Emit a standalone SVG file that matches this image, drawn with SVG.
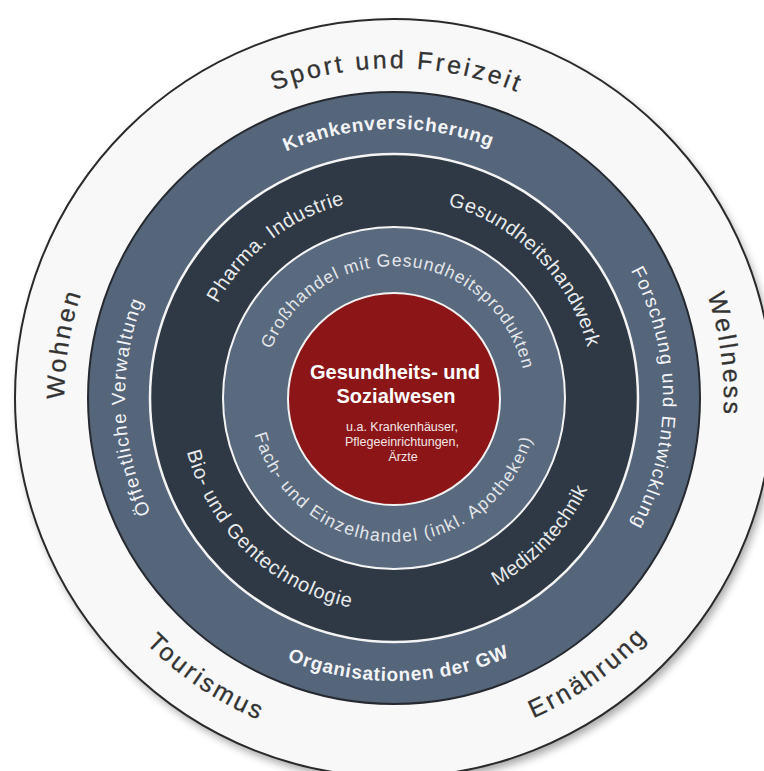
<svg xmlns="http://www.w3.org/2000/svg" width="764" height="771" viewBox="0 0 764 771">
<style>
text{font-family:"Liberation Sans",Arial,sans-serif;text-anchor:middle}
.to{font-size:25px;fill:#333333;stroke:#333333;stroke-width:0.3px;letter-spacing:2.8px}
.tm{font-size:19px;fill:#f2f4f6;letter-spacing:1.3px}
.tmb{font-size:19px;fill:#f2f4f6;font-weight:bold;letter-spacing:0.8px}
.td{font-size:20px;fill:#e8eaec;letter-spacing:0.5px}
.ti{font-size:17.5px;fill:#e3e6ea;letter-spacing:1px}
.ct{font-size:20px;font-weight:bold;fill:#ffffff}
.cs{font-size:12.5px;fill:#f3e6e6}
</style>
<defs>
<filter id="sh" x="-10%" y="-10%" width="120%" height="120%"><feGaussianBlur stdDeviation="4"/></filter>
<path id="po" d="M 64,398 A 330 330 0 0 1 724,398"/>
<path id="pob" d="M 45,398 A 349 349 0 0 0 743,398"/>
<path id="pm" d="M 125,398 A 269 269 0 0 1 663,398"/>
<path id="pmb" d="M 111,398 A 283 283 0 0 0 677,398"/>
<path id="pd" d="M 194,398 A 200 200 0 0 1 594,398"/>
<path id="pdb" d="M 180,398 A 214 214 0 0 0 608,398"/>
<path id="pi" d="M 262,398 A 132 132 0 0 1 526,398"/>
<path id="pib" d="M 250,398 A 144 144 0 0 0 538,398"/>
</defs>
<rect width="764" height="771" fill="#ffffff"/>
<g id="ring-outer">
<circle cx="397" cy="403" r="379" fill="#000" opacity="0.35" filter="url(#sh)"/>
<circle cx="394" cy="398" r="379" fill="#f8f8f8" stroke="#2a2a2a" stroke-width="2"/>
<text class="to" style="letter-spacing:3px" transform="rotate(0.5 394 398)"><textPath href="#po" startOffset="50%">Sport und Freizeit</textPath></text>
<text class="to" transform="rotate(-80.7 394 398)"><textPath href="#po" startOffset="50%">Wohnen</textPath></text>
<text class="to" transform="rotate(82.5 394 398)"><textPath href="#po" startOffset="50%">Wellness</textPath></text>
<text class="to" transform="rotate(33.9 394 398)"><textPath href="#pob" startOffset="50%">Tourismus</textPath></text>
<text class="to" transform="rotate(-35.15 394 398)"><textPath href="#pob" startOffset="50%">Ernährung</textPath></text>
</g>
<g id="ring-mid">
<circle cx="394" cy="398" r="306" fill="#55657a" stroke="#262a30" stroke-width="2"/>
<text class="tmb" transform="rotate(-1.2 394 398)"><textPath href="#pm" startOffset="50%">Krankenversicherung</textPath></text>
<text class="tm" transform="rotate(-92 394 398)"><textPath href="#pm" startOffset="50%">Öffentliche Verwaltung</textPath></text>
<text class="tm" transform="rotate(90 394 398)"><textPath href="#pm" startOffset="50%">Forschung und Entwicklung</textPath></text>
<text class="tmb" transform="rotate(-1 394 398)"><textPath href="#pmb" startOffset="50%">Organisationen der GW</textPath></text>
</g>
<g id="ring-dark">
<circle cx="394" cy="398" r="244" fill="#2e3945" stroke="#f4f4f4" stroke-width="2.5"/>
<text class="td" transform="rotate(-38 394 398)"><textPath href="#pd" startOffset="50%">Pharma. Industrie</textPath></text>
<text class="td" transform="rotate(45.5 394 398)"><textPath href="#pd" startOffset="50%">Gesundheitshandwerk</textPath></text>
<text class="td" style="letter-spacing:0.8px" transform="rotate(43.5 394 398)"><textPath href="#pdb" startOffset="50%">Bio- und Gentechnologie</textPath></text>
<text class="td" style="letter-spacing:0.2px" transform="rotate(-46.7 394 398)"><textPath href="#pdb" startOffset="50%">Medizintechnik</textPath></text>
</g>
<g id="ring-inner">
<circle cx="394" cy="398" r="171" fill="#596a7e" stroke="#f4f4f4" stroke-width="2"/>
<text class="ti" transform="rotate(4.7 394 398)"><textPath href="#pi" startOffset="50%">Großhandel mit Gesundheitsprodukten</textPath></text>
<text class="ti" style="letter-spacing:1.4px" transform="rotate(0.75 394 398)"><textPath href="#pib" startOffset="50%">Fach- und Einzelhandel (inkl. Apotheken)</textPath></text>
</g>
<g id="core">
<circle cx="394" cy="399" r="106" fill="#8b1517" stroke="#f2f2f2" stroke-width="2"/>
<text class="ct" x="395" y="379">Gesundheits- und<tspan x="396" dy="24">Sozialwesen</tspan></text>
<text class="cs" x="402" y="431">u.a. Krankenhäuser,<tspan x="402" dy="15">Pflegeeinrichtungen,</tspan><tspan x="403" dy="15">Ärzte</tspan></text>
</g>
<g id="connectors"/>
</svg>
